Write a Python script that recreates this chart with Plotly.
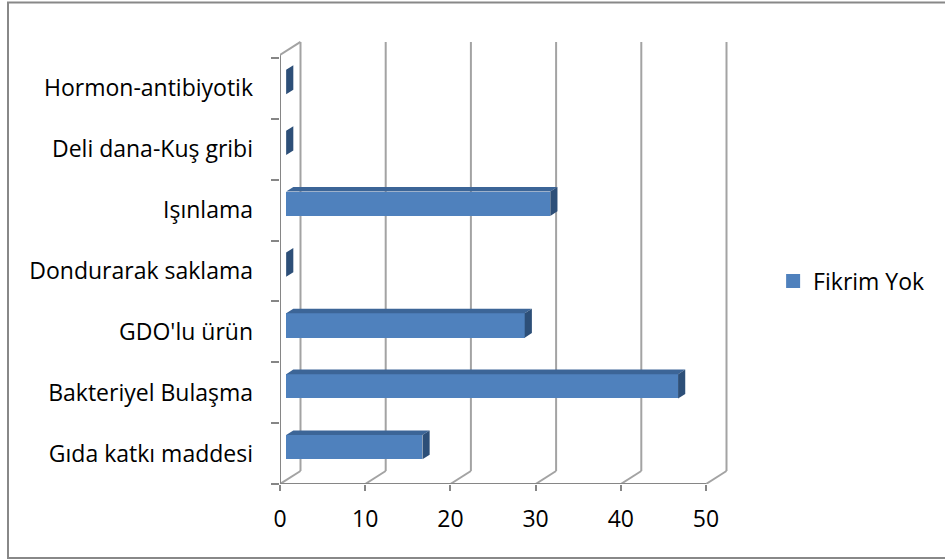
import plotly.graph_objects as go

# Survey categories (bottom to top) and "Fikrim Yok" counts
categories = [
    "Gıda katkı maddesi",
    "Bakteriyel Bulaşma",
    "GDO'lu ürün",
    "Dondurarak saklama",
    "Işınlama",
    "Deli dana-Kuş gribi",
    "Hormon-antibiyotik",
]
values = [16, 46, 28, 0, 31, 0, 0]
series_name = "Fikrim Yok"
x_ticks = [0, 10, 20, 30, 40, 50]

# Oblique "3-D" projection: depth offset of the back wall in axis units
DX = 2.406     # value units per full depth
DY = 0.2136    # category units per full depth
Z_FRONT, Z_BACK = 0.30, 0.65   # bar depth slice
BAR_H = 0.40
BAR_SHIFT = 0.105

FRONT = "#4F81BD"
TOP = "#3C6597"
SIDE = "#2D4F78"
WALL = "#A3A3A3"
AXIS = "#868686"

idx = list(range(len(categories)))
y_lo, y_hi = -0.5, len(categories) - 0.5
wall_top = y_hi + 0.05

fig = go.Figure()

# Front faces of the bars
b0 = Z_FRONT * DX
fig.add_trace(go.Bar(
    y=idx, x=values, base=[b0] * len(values), orientation="h",
    width=BAR_H, offset=BAR_SHIFT - BAR_H / 2,
    marker=dict(color=FRONT, line=dict(width=0)),
    name=series_name, legendgroup="s", showlegend=False, hoverinfo="skip",
))
# Legend entry for the series (square swatch)
fig.add_trace(go.Scatter(
    x=[None], y=[None], mode="markers", name=series_name, legendgroup="s",
    marker=dict(symbol="square", size=14, color=FRONT), showlegend=True,
))

# Top and side faces of the bars
ddx = (Z_BACK - Z_FRONT) * DX
ddy = (Z_BACK - Z_FRONT) * DY
tx, ty, sx, sy = [], [], [], []
for c, v in zip(idx, values):
    yt = c + BAR_SHIFT + BAR_H / 2
    yb = c + BAR_SHIFT - BAR_H / 2
    xr = b0 + v
    tx += [b0, xr, xr + ddx, b0 + ddx, b0, None]
    ty += [yt, yt, yt + ddy, yt + ddy, yt, None]
    sx += [xr, xr, xr + ddx, xr + ddx, xr, None]
    sy += [yt, yb, yb + ddy, yt + ddy, yt, None]
fig.add_trace(go.Scatter(x=tx, y=ty, mode="lines", fill="toself", fillcolor=TOP,
                         line=dict(width=0), showlegend=False, hoverinfo="skip"))
fig.add_trace(go.Scatter(x=sx, y=sy, mode="lines", fill="toself", fillcolor=SIDE,
                         line=dict(width=0), showlegend=False, hoverinfo="skip"))

# Walls, floor and gridlines (drawn beneath the bars)
shapes = []
def seg(x0, y0, x1, y1, color=WALL, w=2):
    shapes.append(dict(type="line", xref="x", yref="y", x0=x0, y0=y0, x1=x1, y1=y1,
                       line=dict(color=color, width=w), layer="below"))

for v in x_ticks:
    seg(v + DX, y_lo + DY, v + DX, wall_top + DY)       # back wall gridline
    seg(v, y_lo, v + DX, y_lo + DY)                     # floor diagonal
seg(0, y_lo, 0, wall_top, AXIS)                         # left wall front edge
seg(0, wall_top, DX, wall_top + DY)                     # left wall top edge
seg(0, y_lo, x_ticks[-1], y_lo, AXIS)                   # floor front edge

# Outer chart border
shapes.append(dict(type="rect", xref="paper", yref="paper",
                   x0=-0.5913, y0=-0.1652, x1=1.45, y1=1.0748,
                   line=dict(color="#888888", width=2), layer="below"))

font_family = "Open Sans"
fig.update_layout(
    width=945, height=560,
    margin=dict(l=280, r=205, t=36, b=76),
    paper_bgcolor="white", plot_bgcolor="white",
    shapes=shapes,
    bargap=0,
    xaxis=dict(range=[0, 460 / 8.52], tickvals=x_ticks, ticktext=[str(t) for t in x_ticks],
               ticks="outside", ticklen=6, tickwidth=2, tickcolor=AXIS,
               ticklabelstandoff=8,
               showgrid=False, zeroline=False, showline=False,
               tickfont=dict(family=font_family, size=23, color="black")),
    yaxis=dict(range=[y_lo, y_lo + 448 / 60.86], tickvals=idx, ticktext=categories,
               ticks="", showgrid=False, zeroline=False, showline=False,
               ticklabelstandoff=26,
               minor=dict(tickvals=[c - 0.5 for c in idx] + [y_hi], ticks="outside",
                          ticklen=8, tickwidth=2, tickcolor=AXIS, showgrid=False),
               tickfont=dict(family=font_family, size=23, color="black")),
    legend=dict(x=1.072, y=0.453, xanchor="left", yanchor="middle",
                font=dict(family=font_family, size=23, color="black"),
                bgcolor="rgba(0,0,0,0)", itemwidth=30),
    showlegend=True,
)

fig.write_html("out.html")
